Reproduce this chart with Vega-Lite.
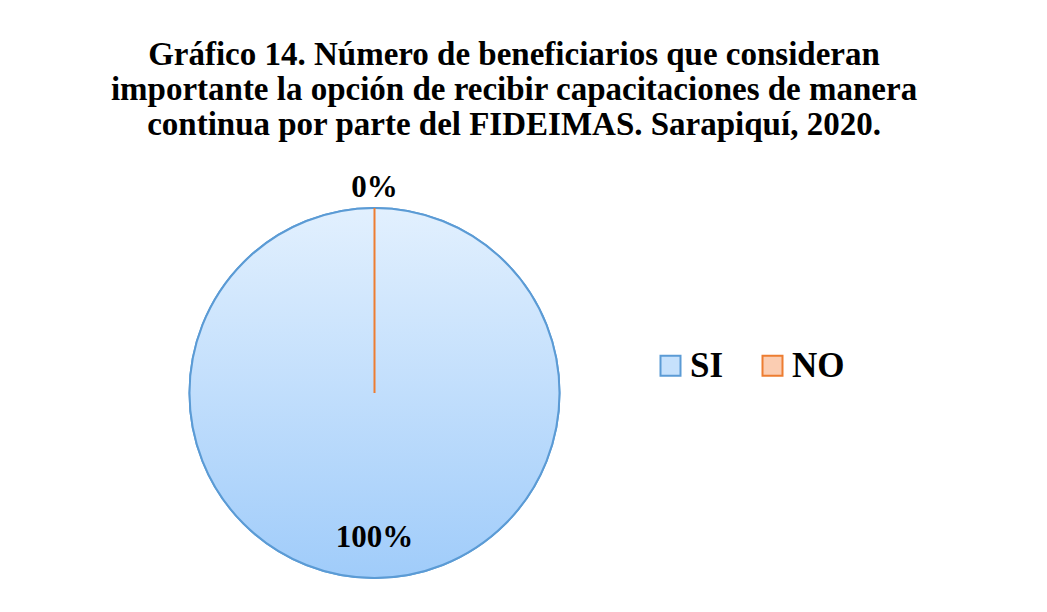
{
  "$schema": "https://vega.github.io/schema/vega-lite/v6.json",
  "autosize": {"type": "none"},
  "padding": {"left": 184, "top": 208, "right": 482, "bottom": 34},
  "width": 381,
  "height": 370,
  "background": "white",
  "config": {"view": {"stroke": null}},
  "title": {
    "text": ["Gráfico 14. Número de beneficiarios que consideran", "importante la opción de recibir capacitaciones de manera", "continua por parte del FIDEIMAS. Sarapiquí, 2020."],
    "font": "Liberation Serif",
    "fontSize": 33,
    "fontWeight": "bold",
    "color": "#000000",
    "lineHeight": 35,
    "anchor": "middle",
    "frame": "group",
    "dx": 139.5,
    "offset": 30
  },
  "data": {
    "values": [
      {"respuesta": "SI", "valor": 100, "etiqueta": "100%"},
      {"respuesta": "NO", "valor": 0, "etiqueta": "0%"}
    ]
  },
  "encoding": {
    "theta": {"field": "valor", "type": "quantitative", "stack": true, "sort": null}
  },
  "layer": [
    {
      "mark": {"type": "arc", "outerRadius": 185, "strokeWidth": 2},
      "encoding": {
        "fill": {
          "field": "respuesta",
          "type": "nominal",
          "sort": ["SI", "NO"],
          "scale": {"domain": ["SI", "NO"], "range": ["#c6e1fc", "#fbcdb2"]},
          "legend": {
            "orient": "none",
            "legendX": 469,
            "legendY": 140,
            "direction": "horizontal",
            "title": null,
            "symbolType": "square",
            "symbolSize": 400,
            "symbolStrokeWidth": 2,
            "symbolOpacity": 1,
            "labelFont": "Liberation Serif",
            "labelFontSize": 35,
            "labelFontWeight": "bold",
            "labelColor": "#000000",
            "labelOffset": 2,
            "columnPadding": 31
          }
        },
        "stroke": {
          "field": "respuesta",
          "type": "nominal",
          "sort": ["SI", "NO"],
          "scale": {"domain": ["SI", "NO"], "range": ["#5b9bd5", "#ed7d31"]},
          "legend": {
            "orient": "none",
            "legendX": 469,
            "legendY": 140,
            "direction": "horizontal",
            "title": null,
            "symbolType": "square",
            "symbolSize": 400,
            "symbolStrokeWidth": 2,
            "symbolOpacity": 1,
            "labelFont": "Liberation Serif",
            "labelFontSize": 35,
            "labelFontWeight": "bold",
            "labelColor": "#000000",
            "labelOffset": 2,
            "columnPadding": 31
          }
        }
      }
    },
    {
      "mark": {"type": "arc", "outerRadius": 185, "strokeWidth": 2},
      "encoding": {
        "fill": {
          "condition": {
            "test": "datum.respuesta === 'SI'",
            "value": {"gradient": "linear", "x1": 0, "y1": 0, "x2": 0, "y2": 1, "stops": [{"offset": 0, "color": "#e2f0fe"}, {"offset": 1, "color": "#a0ccfa"}]}
          },
          "value": {"gradient": "linear", "x1": 0, "y1": 0, "x2": 0, "y2": 1, "stops": [{"offset": 0, "color": "#fde3d4"}, {"offset": 1, "color": "#f8b38c"}]}
        },
        "stroke": {
          "condition": {"test": "datum.respuesta === 'SI'", "value": "#5b9bd5"},
          "value": "#ed7d31"
        }
      }
    },
    {
      "mark": {
        "type": "text",
        "font": "Liberation Serif",
        "fontSize": 31,
        "fontWeight": "bold",
        "color": "#000000",
        "baseline": "alphabetic",
        "align": "center",
        "radius": 154
      },
      "encoding": {
        "text": {"condition": {"test": "datum.respuesta === 'SI'", "field": "etiqueta"}, "value": ""}
      }
    },
    {
      "mark": {
        "type": "text",
        "font": "Liberation Serif",
        "fontSize": 31,
        "fontWeight": "bold",
        "color": "#000000",
        "baseline": "alphabetic",
        "align": "center",
        "radius": 196
      },
      "encoding": {
        "text": {"condition": {"test": "datum.respuesta === 'NO'", "field": "etiqueta"}, "value": ""}
      }
    }
  ]
}
